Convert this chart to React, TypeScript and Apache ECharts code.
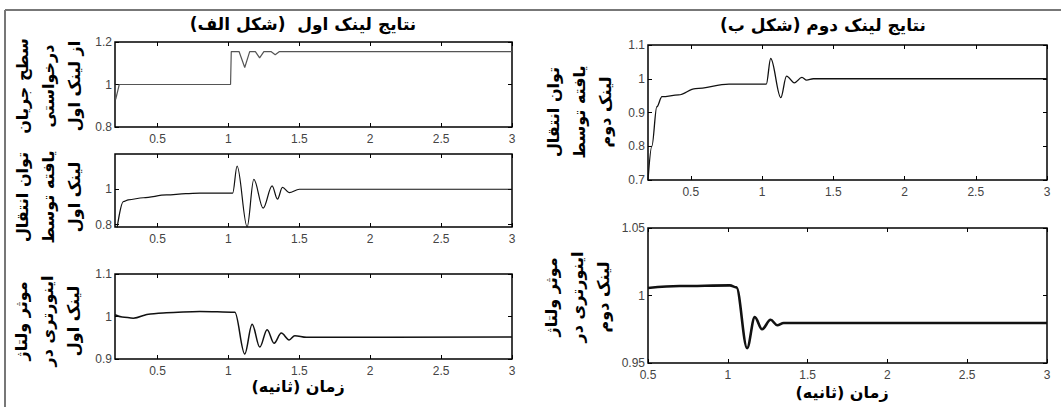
import React, { useEffect, useRef } from "react";
import * as echarts from "echarts";

// ---------- data ----------
const xTicks = [0.5, 1, 1.5, 2, 2.5, 3];

const currentLink1: [number, number][] = [
  [0.2, 1.0], [0.205, 0.93], [0.23, 1.0], [1.015, 1.0], [1.02, 1.155], [1.075, 1.155],
  [1.115, 1.08], [1.15, 1.155], [1.19, 1.155], [1.22, 1.125], [1.25, 1.155], [1.3, 1.155],
  [1.33, 1.14], [1.36, 1.155], [3, 1.155],
];

const powerLink1: [number, number][] = [
  [0.2, 0.7], [0.259, 0.93], [0.294, 0.94], [0.4, 0.952], [0.563, 0.968], [0.7, 0.975],
  [0.798, 0.978], [1.03, 0.978], [1.061, 1.131], [1.132, 0.787], [1.179, 1.056],
  [1.245, 0.893], [1.308, 1.019], [1.346, 0.944], [1.381, 1.011], [1.428, 0.981],
  [1.5, 1.0], [3, 1.0],
];

const voltageLink1: [number, number][] = [
  [0.2, 1.004], [0.25, 0.999], [0.329, 0.996], [0.45, 1.006], [0.563, 1.009],
  [0.798, 1.012], [1.045, 1.01], [1.115, 0.912], [1.167, 0.982], [1.221, 0.928],
  [1.273, 0.969], [1.322, 0.937], [1.373, 0.961], [1.428, 0.945], [1.468, 0.955],
  [1.55, 0.951], [3, 0.952],
];

const powerLink2: [number, number][] = [
  [0.2, 0.7], [0.227, 0.8], [0.262, 0.917], [0.298, 0.947], [0.415, 0.952],
  [0.533, 0.971], [0.768, 0.984], [1.03, 0.984], [1.061, 1.06], [1.132, 0.944],
  [1.172, 1.008], [1.227, 0.988], [1.28, 1.004], [1.313, 0.996], [1.36, 1.0], [3, 1.0],
];

const voltageLink2: [number, number][] = [
  [0.5, 1.0056], [0.699, 1.007], [1.013, 1.0075], [1.054, 1.006], [1.121, 0.961],
  [1.169, 0.984], [1.215, 0.975], [1.268, 0.982], [1.31, 0.978], [1.35, 0.9796], [3, 0.9796],
];

const titleLeft = "نتایج لینک اول  (شکل الف)";
const titleRight = "نتایج لینک دوم (شکل ب)";
const xTitle = "زمان (ثانیه)";
const yLabelCurrent1 = "سطح جریان\nدرخواستی\nاز لینک اول";
const yLabelPower1 = "توان انتقال\nیافته توسط\nلینک اول";
const yLabelVoltage1 = "موثر ولتاژ\nاینورتری در\nلینک اول";
const yLabelPower2 = "توان انتقال\nیافته توسط\nلینک دوم";
const yLabelVoltage2 = "موثر ولتاژ\nاینورتری در\nلینک دوم";

// ---------- layout ----------
const panels = [
  { data: currentLink1, grid: { left: 115, top: 42, width: 397, height: 85 }, xMin: 0.2, xMax: 3, xT: xTicks, yMin: 0.8, yMax: 1.2, yT: [0.8, 1, 1.2], color: "#555", lw: 1.2, smooth: false },
  { data: powerLink1, grid: { left: 115, top: 154, width: 397, height: 73 }, xMin: 0.2, xMax: 3, xT: xTicks, yMin: 0.786, yMax: 1.2, yT: [0.8, 1], color: "#111", lw: 1.2, smooth: 0.35 },
  { data: voltageLink1, grid: { left: 115, top: 274, width: 397, height: 85 }, xMin: 0.2, xMax: 3, xT: xTicks, yMin: 0.9, yMax: 1.1, yT: [0.9, 1, 1.1], color: "#111", lw: 1.5, smooth: 0.35 },
  { data: powerLink2, grid: { left: 648, top: 45, width: 399, height: 135 }, xMin: 0.2, xMax: 3, xT: xTicks, yMin: 0.7, yMax: 1.1, yT: [0.7, 0.8, 0.9, 1, 1.1], color: "#111", lw: 1.3, smooth: 0.35 },
  { data: voltageLink2, grid: { left: 648, top: 228, width: 399, height: 135 }, xMin: 0.5, xMax: 3, xT: xTicks, yMin: 0.95, yMax: 1.05, yT: [0.95, 1, 1.05], color: "#111", lw: 2.6, smooth: 0.35 },
];

const tickFont = { fontFamily: "Liberation Sans, Arial, sans-serif", fontSize: 12, color: "#444" };
const faFont = "bold 16px 'DejaVu Sans', sans-serif";
const titleFont = "bold 17px 'DejaVu Sans', sans-serif";

export default function App() {
  const ref = useRef<HTMLDivElement>(null);
  useEffect(() => {
    if (!ref.current) return;
    const chart = echarts.init(ref.current, null, { renderer: "svg" });
    const grid: any[] = [];
    const xAxis: any[] = [];
    const yAxis: any[] = [];
    const series: any[] = [];
    panels.forEach((p, i) => {
      grid.push({ ...p.grid, show: true, borderColor: "#000", borderWidth: 1.5, backgroundColor: "#fff" });
      const xBase = {
        type: "value", gridIndex: i, min: p.xMin, max: p.xMax,
        splitLine: { show: false }, axisLine: { show: false },
        axisTick: { show: true, inside: true, length: 4, customValues: p.xT, lineStyle: { color: "#000" } },
      };
      xAxis.push({ ...xBase, position: "bottom", axisLabel: { ...tickFont, margin: 6, customValues: p.xT } });
      xAxis.push({ ...xBase, position: "top", axisLabel: { show: false } });
      const yBase = {
        type: "value", gridIndex: i, min: p.yMin, max: p.yMax,
        splitLine: { show: false }, axisLine: { show: false },
        axisTick: { show: true, inside: true, length: 4, customValues: p.yT, lineStyle: { color: "#000" } },
      };
      yAxis.push({ ...yBase, position: "left", axisLabel: { ...tickFont, margin: 3, customValues: p.yT } });
      yAxis.push({ ...yBase, position: "right", axisLabel: { show: false } });
      series.push({
        type: "line", xAxisIndex: 2 * i, yAxisIndex: 2 * i, data: p.data, showSymbol: false,
        symbol: "none", clip: true, smooth: p.smooth, smoothMonotone: p.smooth ? "x" : undefined,
        lineStyle: { color: p.color, width: p.lw },
      });
    });

    const rotText = (x: number, y: number, text: string) => ({
      type: "text", x, y, rotation: Math.PI / 2,
      style: { text, font: faFont, fill: "#000", align: "center", verticalAlign: "middle", lineHeight: 26 },
    });
    const hText = (x: number, y: number, text: string, font = faFont) => ({
      type: "text", x, y,
      style: { text, font, fill: "#000", align: "center", verticalAlign: "middle" },
    });

    chart.setOption({
      animation: false,
      backgroundColor: "#fff",
      grid, xAxis, yAxis, series,
      graphic: [
        { type: "line", shape: { x1: 5, y1: 10, x2: 1061, y2: 10 }, style: { stroke: "#777", lineWidth: 2 } },
        { type: "line", shape: { x1: 5, y1: 10, x2: 5, y2: 407 }, style: { stroke: "#777", lineWidth: 2 } },
        hText(303, 24, titleLeft, titleFont),
        hText(823, 25, titleRight, titleFont),
        hText(298, 386, xTitle),
        hText(842, 392, xTitle),
        rotText(48, 86, yLabelCurrent1),
        rotText(48, 197, yLabelPower1),
        rotText(47, 321, yLabelVoltage1),
        rotText(579, 112, yLabelPower2),
        rotText(577, 297, yLabelVoltage2),
      ],
    });
    return () => chart.dispose();
  }, []);
  return <div ref={ref} style={{ position: "fixed", left: 0, top: 0, width: 1061, height: 407, background: "#fff" }} />;
}
